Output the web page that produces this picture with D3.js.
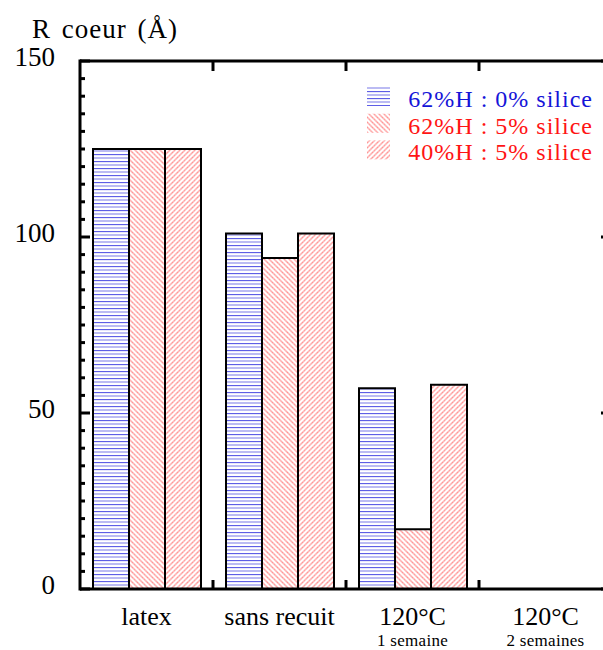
<!DOCTYPE html>
<html><head><meta charset="utf-8">
<script src="https://cdn.jsdelivr.net/npm/d3@7"></script>
<style>body{margin:0;background:#fff;} svg{display:block;}</style>
</head><body>
<svg id="c" width="603" height="650" font-family="'Liberation Serif', 'Times New Roman', Times, 'DejaVu Serif', serif"></svg>
<script>
const categories = ["latex", "sans recuit", "120°C", "120°C"];
const subLabels = ["", "", "1 semaine", "2 semaines"];
const seriesNames = ["62%H : 0% silice", "62%H : 5% silice", "40%H : 5% silice"];
const seriesA = [125, 101, 57, null];
const seriesB = [125, 94, 17, null];
const seriesC = [125, 101, 58, null];
const yTicks = [0, 50, 100, 150];

const svg = d3.select("#c");
const M = {left: 80, top: 61, bottom: 589, right: 612};
const y = d3.scaleLinear().domain([0, 150]).range([M.bottom, M.top]);
const x = d3.scaleBand().domain(d3.range(categories.length)).range([M.left, M.right]).padding(0);
const xi = d3.scaleBand().domain([0,1,2]).range([13, 121]).padding(0);

const defs = svg.append("defs");
const pb = defs.append("pattern").attr("id","pBlue").attr("patternUnits","userSpaceOnUse").attr("width",8).attr("height",7);
pb.append("rect").attr("width",8).attr("height",7).attr("fill","#fff");
pb.append("line").attr("x1",0).attr("x2",8).attr("y1",0.5).attr("y2",0.5).attr("stroke","#5e5ee6").attr("stroke-width",1.3);
pb.append("line").attr("x1",0).attr("x2",8).attr("y1",4).attr("y2",4).attr("stroke","#b4b4f2").attr("stroke-width",1.8);
function redPattern(id, dir){
  const p = defs.append("pattern").attr("id",id).attr("patternUnits","userSpaceOnUse").attr("width",5).attr("height",5);
  p.append("rect").attr("width",5).attr("height",5).attr("fill","#fff");
  const d = dir > 0 ? "M-1,-1L6,6M-1,4L1,6M4,-1L6,1" : "M-1,6L6,-1M-1,1L1,-1M4,6L6,4";
  p.append("path").attr("d",d).attr("stroke","#ffb8b8").attr("stroke-width",1.6).attr("fill","none");
  p.append("path").attr("d",d).attr("stroke","#ff7a7a").attr("stroke-width",1).attr("stroke-dasharray","1,3").attr("fill","none");
}
redPattern("pRed1", 1);
redPattern("pRed2", -1);
const fills = ["url(#pBlue)","url(#pRed1)","url(#pRed2)"];
const textCols = ["#1414d8","#ff1414","#ff1414"];

const allSeries = [seriesA, seriesB, seriesC];
allSeries.forEach((s, si) => {
  svg.append("g").selectAll("path").data(s.map((v,i)=>({v,i})).filter(d=>d.v!=null)).join("path")
    .attr("d", d => {
      const x0 = x(d.i) + xi(si), x1 = x0 + xi.bandwidth();
      return `M${x0},${M.bottom}V${y(d.v)}H${x1}V${M.bottom}`;
    })
    .attr("fill", fills[si]).attr("stroke","#000").attr("stroke-width",2);
});

const ax = svg.append("g").attr("stroke","#000");
const minor = d3.range(0, 151, 5);
ax.selectAll(".lt").data(minor).join("line")
  .attr("x1", M.left).attr("x2", d => M.left + (d % 50 === 0 ? 10 : 5))
  .attr("y1", d=>y(d)).attr("y2", d=>y(d)).attr("stroke-width",3);
ax.selectAll(".rt").data(minor).join("line")
  .attr("x1", M.right).attr("x2", d => M.right - (d % 50 === 0 ? 11 : 5))
  .attr("y1", d=>y(d)).attr("y2", d=>y(d)).attr("stroke-width",3);
const bounds = d3.range(1, categories.length).map(i => x(i));
ax.selectAll(".bt").data(bounds).join("line").attr("x1",d=>d).attr("x2",d=>d).attr("y1",M.bottom).attr("y2",M.bottom-9).attr("stroke-width",3);
ax.selectAll(".tt").data(bounds).join("line").attr("x1",d=>d).attr("x2",d=>d).attr("y1",M.top).attr("y2",M.top+10).attr("stroke-width",3);
ax.append("line").attr("x1",M.left).attr("x2",M.left).attr("y1",M.top-1.5).attr("y2",M.bottom+1.5).attr("stroke-width",3);
ax.append("line").attr("x1",M.left).attr("x2",M.right).attr("y1",M.bottom).attr("y2",M.bottom).attr("stroke-width",3);
ax.append("line").attr("x1",M.left).attr("x2",M.right).attr("y1",M.top).attr("y2",M.top).attr("stroke-width",3);
ax.append("line").attr("x1",M.right).attr("x2",M.right).attr("y1",M.top).attr("y2",M.bottom).attr("stroke-width",3);

svg.append("g").selectAll("text").data(yTicks).join("text")
  .attr("x", 55).attr("y", d => y(d) + 5).attr("text-anchor","end")
  .attr("font-size", 27).attr("fill","#000").text(d => d);
svg.append("text").attr("x", 32).attr("y", 38).attr("font-size", 27)
  .attr("letter-spacing", 1).attr("word-spacing", 3).text("R coeur (Å)");

svg.append("g").selectAll("text").data(categories).join("text")
  .attr("x", (d,i) => x(i) + x.bandwidth()/2).attr("y", 625).attr("text-anchor","middle")
  .attr("font-size", 26).text(d => d);
svg.append("g").selectAll("text").data(subLabels).join("text")
  .attr("x", (d,i) => x(i) + x.bandwidth()/2).attr("y", 646).attr("text-anchor","middle")
  .attr("font-size", 17).attr("letter-spacing", 0.3).text(d => d);

const lg = svg.append("g");
seriesNames.forEach((n, i) => {
  const yy = 87 + i * 26.7;
  lg.append("rect").attr("x", 367).attr("y", yy).attr("width", 23).attr("height", 19).attr("fill", fills[i]);
  lg.append("text").attr("x", 593).attr("y", yy + 20).attr("text-anchor","end")
    .attr("font-size", 24).attr("letter-spacing", 1).attr("fill", textCols[i]).text(n);
});
</script>
</body></html>
